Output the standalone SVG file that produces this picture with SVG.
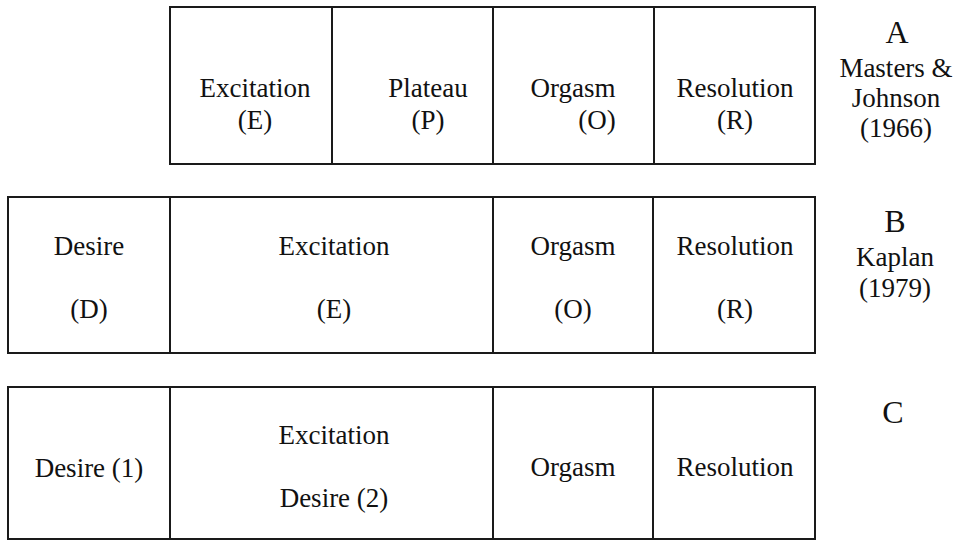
<svg xmlns="http://www.w3.org/2000/svg" width="959" height="541" viewBox="0 0 959 541">
<style>
.box{fill:#fff;stroke:#1a1a1a;stroke-width:2}
text{font-family:'Liberation Serif','DejaVu Serif',serif;font-size:27px;fill:#111;text-anchor:middle}
.big{font-size:32px}
</style>
<rect width="959" height="541" fill="#fff"/>
<g id="rowA">
<g id="A-excitation"><rect class="box" x="170" y="7" width="162" height="157"/><text x="255" y="97">Excitation</text><text x="255" y="129">(E)</text></g>
<g id="A-plateau"><rect class="box" x="332" y="7" width="161" height="157"/><text x="428" y="97">Plateau</text><text x="428" y="129">(P)</text></g>
<g id="A-orgasm"><rect class="box" x="493" y="7" width="161" height="157"/><text x="573" y="97">Orgasm</text><text x="597" y="129">(O)</text></g>
<g id="A-resolution"><rect class="box" x="654" y="7" width="161" height="157"/><text x="735" y="97">Resolution</text><text x="735" y="129">(R)</text></g>
<g id="A-label"><text class="big" x="897" y="43">A</text><text x="896" y="77">Masters &amp;</text><text x="896" y="107">Johnson</text><text x="896" y="137">(1966)</text></g>
</g>
<g id="rowB">
<g id="B-desire"><rect class="box" x="8" y="197" width="162" height="156"/><text x="89" y="255">Desire</text><text x="89" y="318">(D)</text></g>
<g id="B-excitation"><rect class="box" x="170" y="197" width="323" height="156"/><text x="334" y="255">Excitation</text><text x="334" y="318">(E)</text></g>
<g id="B-orgasm"><rect class="box" x="493" y="197" width="160" height="156"/><text x="573" y="255">Orgasm</text><text x="573" y="318">(O)</text></g>
<g id="B-resolution"><rect class="box" x="653" y="197" width="162" height="156"/><text x="735" y="255">Resolution</text><text x="735" y="318">(R)</text></g>
<g id="B-label"><text class="big" x="895" y="232">B</text><text x="895" y="266">Kaplan</text><text x="895" y="297">(1979)</text></g>
</g>
<g id="rowC">
<g id="C-desire"><rect class="box" x="8" y="387" width="162" height="152"/><text x="89" y="477">Desire (1)</text></g>
<g id="C-excitation"><rect class="box" x="170" y="387" width="323" height="152"/><text x="334" y="444">Excitation</text><text x="334" y="507">Desire (2)</text></g>
<g id="C-orgasm"><rect class="box" x="493" y="387" width="160" height="152"/><text x="573" y="476">Orgasm</text></g>
<g id="C-resolution"><rect class="box" x="653" y="387" width="162" height="152"/><text x="735" y="476">Resolution</text></g>
<g id="C-label"><text class="big" x="893" y="423">C</text></g>
</g>
<g id="connectors"></g>
</svg>
